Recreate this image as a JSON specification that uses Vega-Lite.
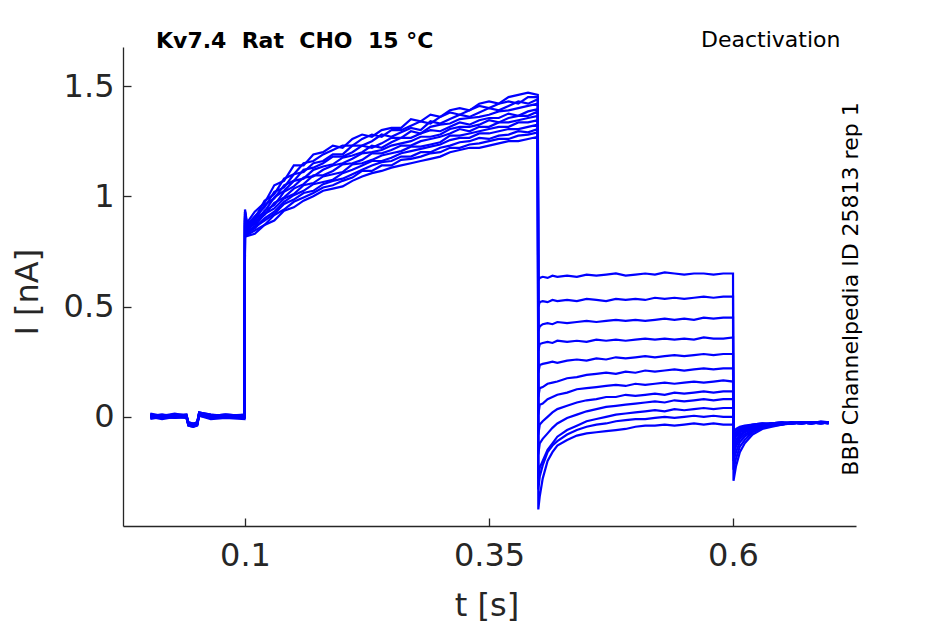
{
  "$schema": "https://vega.github.io/schema/vega-lite/v6.json",
  "width": 733,
  "height": 479,
  "autosize": {"type": "none"},
  "padding": {"left": 123, "top": 47, "right": 89, "bottom": 98},
  "config": {"view": {"stroke": null}, "font": "DejaVu Sans"},
  "title": {"text": "Kv7.4\u00a0\u00a0Rat\u00a0\u00a0CHO\u00a0\u00a015\u00a0°C", "anchor": "start", "frame": "group", "dx": 33, "dy": 42, "offset": 0, "baseline": "alphabetic", "fontSize": 22, "fontWeight": "bold", "color": "black", "font": "DejaVu Sans"},
  "data": {"values": [
{"s":1,"t":0.003,"i":0.01},{"s":1,"t":0.015,"i":0.0},{"s":1,"t":0.028,"i":0.01},{"s":1,"t":0.04,"i":0.005},{"s":1,"t":0.042,"i":-0.025},{"s":1,"t":0.047,"i":-0.03},{"s":1,"t":0.051,"i":-0.025},{"s":1,"t":0.053,"i":0.015},{"s":1,"t":0.065,"i":0.005},{"s":1,"t":0.08,"i":0.01},{"s":1,"t":0.0995,"i":0.005},
{"s":1,"t":0.1,"i":0.94},{"s":1,"t":0.102,"i":0.88},{"s":1,"t":0.11,"i":0.93},{"s":1,"t":0.12,"i":0.97},{"s":1,"t":0.13,"i":1.05},{"s":1,"t":0.14,"i":1.07},{"s":1,"t":0.15,"i":1.14},{"s":1,"t":0.16,"i":1.14},{"s":1,"t":0.17,"i":1.19},{"s":1,"t":0.18,"i":1.2},{"s":1,"t":0.19,"i":1.23},{"s":1,"t":0.2,"i":1.22},{"s":1,"t":0.21,"i":1.26},{"s":1,"t":0.22,"i":1.28},{"s":1,"t":0.23,"i":1.27},{"s":1,"t":0.24,"i":1.3},{"s":1,"t":0.25,"i":1.31},{"s":1,"t":0.26,"i":1.31},{"s":1,"t":0.27,"i":1.35},{"s":1,"t":0.28,"i":1.34},{"s":1,"t":0.29,"i":1.37},{"s":1,"t":0.3,"i":1.36},{"s":1,"t":0.31,"i":1.39},{"s":1,"t":0.32,"i":1.4},{"s":1,"t":0.33,"i":1.39},{"s":1,"t":0.34,"i":1.42},{"s":1,"t":0.35,"i":1.43},{"s":1,"t":0.36,"i":1.42},{"s":1,"t":0.37,"i":1.45},{"s":1,"t":0.38,"i":1.46},{"s":1,"t":0.39,"i":1.47},{"s":1,"t":0.4,"i":1.46},
{"s":1,"t":0.4005,"i":0.62},{"s":1,"t":0.402,"i":0.63},{"s":1,"t":0.405,"i":0.635},{"s":1,"t":0.41,"i":0.63},{"s":1,"t":0.415,"i":0.64},{"s":1,"t":0.42,"i":0.635},{"s":1,"t":0.43,"i":0.64},{"s":1,"t":0.44,"i":0.635},{"s":1,"t":0.45,"i":0.645},{"s":1,"t":0.46,"i":0.64},{"s":1,"t":0.47,"i":0.645},{"s":1,"t":0.48,"i":0.65},{"s":1,"t":0.49,"i":0.64},{"s":1,"t":0.5,"i":0.645},{"s":1,"t":0.51,"i":0.65},{"s":1,"t":0.52,"i":0.645},{"s":1,"t":0.53,"i":0.655},{"s":1,"t":0.54,"i":0.65},{"s":1,"t":0.55,"i":0.645},{"s":1,"t":0.56,"i":0.65},{"s":1,"t":0.57,"i":0.65},{"s":1,"t":0.58,"i":0.645},{"s":1,"t":0.59,"i":0.65},{"s":1,"t":0.6,"i":0.65},
{"s":1,"t":0.6005,"i":-0.29},{"s":1,"t":0.603,"i":-0.225},{"s":1,"t":0.607,"i":-0.16},{"s":1,"t":0.612,"i":-0.12},{"s":1,"t":0.62,"i":-0.08},{"s":1,"t":0.63,"i":-0.055},{"s":1,"t":0.64,"i":-0.045},{"s":1,"t":0.65,"i":-0.035},{"s":1,"t":0.66,"i":-0.03},{"s":1,"t":0.67,"i":-0.025},{"s":1,"t":0.68,"i":-0.03},{"s":1,"t":0.69,"i":-0.025},{"s":1,"t":0.698,"i":-0.025},
{"s":2,"t":0.003,"i":0.005},{"s":2,"t":0.015,"i":0.01},{"s":2,"t":0.028,"i":0.0},{"s":2,"t":0.04,"i":0.01},{"s":2,"t":0.042,"i":-0.03},{"s":2,"t":0.047,"i":-0.035},{"s":2,"t":0.051,"i":-0.03},{"s":2,"t":0.053,"i":0.02},{"s":2,"t":0.065,"i":0.01},{"s":2,"t":0.08,"i":0.0},{"s":2,"t":0.0995,"i":0.01},
{"s":2,"t":0.1,"i":0.93},{"s":2,"t":0.102,"i":0.87},{"s":2,"t":0.11,"i":0.9},{"s":2,"t":0.12,"i":0.98},{"s":2,"t":0.13,"i":1.01},{"s":2,"t":0.14,"i":1.08},{"s":2,"t":0.15,"i":1.1},{"s":2,"t":0.16,"i":1.15},{"s":2,"t":0.17,"i":1.16},{"s":2,"t":0.18,"i":1.19},{"s":2,"t":0.19,"i":1.21},{"s":2,"t":0.2,"i":1.23},{"s":2,"t":0.21,"i":1.23},{"s":2,"t":0.22,"i":1.26},{"s":2,"t":0.23,"i":1.28},{"s":2,"t":0.24,"i":1.27},{"s":2,"t":0.25,"i":1.3},{"s":2,"t":0.26,"i":1.3},{"s":2,"t":0.27,"i":1.32},{"s":2,"t":0.28,"i":1.34},{"s":2,"t":0.29,"i":1.33},{"s":2,"t":0.3,"i":1.36},{"s":2,"t":0.31,"i":1.38},{"s":2,"t":0.32,"i":1.37},{"s":2,"t":0.33,"i":1.39},{"s":2,"t":0.34,"i":1.41},{"s":2,"t":0.35,"i":1.4},{"s":2,"t":0.36,"i":1.42},{"s":2,"t":0.37,"i":1.43},{"s":2,"t":0.38,"i":1.42},{"s":2,"t":0.39,"i":1.45},{"s":2,"t":0.4,"i":1.45},
{"s":2,"t":0.4005,"i":0.5},{"s":2,"t":0.402,"i":0.52},{"s":2,"t":0.405,"i":0.525},{"s":2,"t":0.41,"i":0.52},{"s":2,"t":0.415,"i":0.53},{"s":2,"t":0.42,"i":0.525},{"s":2,"t":0.43,"i":0.53},{"s":2,"t":0.44,"i":0.525},{"s":2,"t":0.45,"i":0.535},{"s":2,"t":0.46,"i":0.53},{"s":2,"t":0.47,"i":0.525},{"s":2,"t":0.48,"i":0.535},{"s":2,"t":0.49,"i":0.53},{"s":2,"t":0.5,"i":0.535},{"s":2,"t":0.51,"i":0.53},{"s":2,"t":0.52,"i":0.54},{"s":2,"t":0.53,"i":0.535},{"s":2,"t":0.54,"i":0.54},{"s":2,"t":0.55,"i":0.535},{"s":2,"t":0.56,"i":0.54},{"s":2,"t":0.57,"i":0.545},{"s":2,"t":0.58,"i":0.54},{"s":2,"t":0.59,"i":0.545},{"s":2,"t":0.6,"i":0.545},
{"s":2,"t":0.6005,"i":-0.24},{"s":2,"t":0.603,"i":-0.19},{"s":2,"t":0.607,"i":-0.135},{"s":2,"t":0.612,"i":-0.105},{"s":2,"t":0.62,"i":-0.07},{"s":2,"t":0.63,"i":-0.05},{"s":2,"t":0.64,"i":-0.04},{"s":2,"t":0.65,"i":-0.035},{"s":2,"t":0.66,"i":-0.025},{"s":2,"t":0.67,"i":-0.03},{"s":2,"t":0.68,"i":-0.025},{"s":2,"t":0.69,"i":-0.03},{"s":2,"t":0.698,"i":-0.025},
{"s":3,"t":0.003,"i":0.0},{"s":3,"t":0.015,"i":0.005},{"s":3,"t":0.028,"i":0.005},{"s":3,"t":0.04,"i":0.0},{"s":3,"t":0.042,"i":-0.035},{"s":3,"t":0.047,"i":-0.04},{"s":3,"t":0.051,"i":-0.03},{"s":3,"t":0.053,"i":0.01},{"s":3,"t":0.065,"i":0.0},{"s":3,"t":0.08,"i":0.005},{"s":3,"t":0.0995,"i":0.0},
{"s":3,"t":0.1,"i":0.93},{"s":3,"t":0.102,"i":0.87},{"s":3,"t":0.11,"i":0.91},{"s":3,"t":0.12,"i":0.95},{"s":3,"t":0.13,"i":1.02},{"s":3,"t":0.14,"i":1.04},{"s":3,"t":0.15,"i":1.1},{"s":3,"t":0.16,"i":1.11},{"s":3,"t":0.17,"i":1.15},{"s":3,"t":0.18,"i":1.16},{"s":3,"t":0.19,"i":1.19},{"s":3,"t":0.2,"i":1.19},{"s":3,"t":0.21,"i":1.23},{"s":3,"t":0.22,"i":1.23},{"s":3,"t":0.23,"i":1.25},{"s":3,"t":0.24,"i":1.28},{"s":3,"t":0.25,"i":1.27},{"s":3,"t":0.26,"i":1.29},{"s":3,"t":0.27,"i":1.31},{"s":3,"t":0.28,"i":1.3},{"s":3,"t":0.29,"i":1.34},{"s":3,"t":0.3,"i":1.33},{"s":3,"t":0.31,"i":1.35},{"s":3,"t":0.32,"i":1.37},{"s":3,"t":0.33,"i":1.36},{"s":3,"t":0.34,"i":1.38},{"s":3,"t":0.35,"i":1.4},{"s":3,"t":0.36,"i":1.39},{"s":3,"t":0.37,"i":1.41},{"s":3,"t":0.38,"i":1.43},{"s":3,"t":0.39,"i":1.42},{"s":3,"t":0.4,"i":1.44},
{"s":3,"t":0.4005,"i":0.39},{"s":3,"t":0.402,"i":0.41},{"s":3,"t":0.405,"i":0.42},{"s":3,"t":0.41,"i":0.425},{"s":3,"t":0.415,"i":0.42},{"s":3,"t":0.42,"i":0.43},{"s":3,"t":0.43,"i":0.425},{"s":3,"t":0.44,"i":0.43},{"s":3,"t":0.45,"i":0.435},{"s":3,"t":0.46,"i":0.43},{"s":3,"t":0.47,"i":0.435},{"s":3,"t":0.48,"i":0.44},{"s":3,"t":0.49,"i":0.435},{"s":3,"t":0.5,"i":0.44},{"s":3,"t":0.51,"i":0.435},{"s":3,"t":0.52,"i":0.44},{"s":3,"t":0.53,"i":0.445},{"s":3,"t":0.54,"i":0.44},{"s":3,"t":0.55,"i":0.445},{"s":3,"t":0.56,"i":0.44},{"s":3,"t":0.57,"i":0.45},{"s":3,"t":0.58,"i":0.445},{"s":3,"t":0.59,"i":0.45},{"s":3,"t":0.6,"i":0.45},
{"s":3,"t":0.6005,"i":-0.2},{"s":3,"t":0.603,"i":-0.16},{"s":3,"t":0.607,"i":-0.115},{"s":3,"t":0.612,"i":-0.09},{"s":3,"t":0.62,"i":-0.065},{"s":3,"t":0.63,"i":-0.045},{"s":3,"t":0.64,"i":-0.035},{"s":3,"t":0.65,"i":-0.03},{"s":3,"t":0.66,"i":-0.03},{"s":3,"t":0.67,"i":-0.025},{"s":3,"t":0.68,"i":-0.03},{"s":3,"t":0.69,"i":-0.02},{"s":3,"t":0.698,"i":-0.025},
{"s":4,"t":0.003,"i":0.01},{"s":4,"t":0.015,"i":-0.005},{"s":4,"t":0.028,"i":0.0},{"s":4,"t":0.04,"i":0.005},{"s":4,"t":0.042,"i":-0.03},{"s":4,"t":0.047,"i":-0.035},{"s":4,"t":0.051,"i":-0.035},{"s":4,"t":0.053,"i":0.015},{"s":4,"t":0.065,"i":0.005},{"s":4,"t":0.08,"i":0.01},{"s":4,"t":0.0995,"i":0.005},
{"s":4,"t":0.1,"i":0.92},{"s":4,"t":0.102,"i":0.86},{"s":4,"t":0.11,"i":0.89},{"s":4,"t":0.12,"i":0.96},{"s":4,"t":0.13,"i":0.99},{"s":4,"t":0.14,"i":1.05},{"s":4,"t":0.15,"i":1.07},{"s":4,"t":0.16,"i":1.12},{"s":4,"t":0.17,"i":1.13},{"s":4,"t":0.18,"i":1.15},{"s":4,"t":0.19,"i":1.18},{"s":4,"t":0.2,"i":1.18},{"s":4,"t":0.21,"i":1.2},{"s":4,"t":0.22,"i":1.23},{"s":4,"t":0.23,"i":1.22},{"s":4,"t":0.24,"i":1.24},{"s":4,"t":0.25,"i":1.265},{"s":4,"t":0.26,"i":1.265},{"s":4,"t":0.27,"i":1.295},{"s":4,"t":0.28,"i":1.285},{"s":4,"t":0.29,"i":1.315},{"s":4,"t":0.3,"i":1.325},{"s":4,"t":0.31,"i":1.33},{"s":4,"t":0.32,"i":1.35},{"s":4,"t":0.33,"i":1.355},{"s":4,"t":0.34,"i":1.36},{"s":4,"t":0.35,"i":1.37},{"s":4,"t":0.36,"i":1.385},{"s":4,"t":0.37,"i":1.39},{"s":4,"t":0.38,"i":1.4},{"s":4,"t":0.39,"i":1.41},{"s":4,"t":0.4,"i":1.42},
{"s":4,"t":0.4005,"i":0.3},{"s":4,"t":0.402,"i":0.33},{"s":4,"t":0.405,"i":0.335},{"s":4,"t":0.41,"i":0.34},{"s":4,"t":0.415,"i":0.335},{"s":4,"t":0.42,"i":0.345},{"s":4,"t":0.43,"i":0.34},{"s":4,"t":0.44,"i":0.345},{"s":4,"t":0.45,"i":0.34},{"s":4,"t":0.46,"i":0.35},{"s":4,"t":0.47,"i":0.345},{"s":4,"t":0.48,"i":0.35},{"s":4,"t":0.49,"i":0.345},{"s":4,"t":0.5,"i":0.35},{"s":4,"t":0.51,"i":0.355},{"s":4,"t":0.52,"i":0.35},{"s":4,"t":0.53,"i":0.355},{"s":4,"t":0.54,"i":0.35},{"s":4,"t":0.55,"i":0.355},{"s":4,"t":0.56,"i":0.35},{"s":4,"t":0.57,"i":0.36},{"s":4,"t":0.58,"i":0.355},{"s":4,"t":0.59,"i":0.355},{"s":4,"t":0.6,"i":0.36},
{"s":4,"t":0.6005,"i":-0.17},{"s":4,"t":0.603,"i":-0.135},{"s":4,"t":0.607,"i":-0.1},{"s":4,"t":0.612,"i":-0.08},{"s":4,"t":0.62,"i":-0.06},{"s":4,"t":0.63,"i":-0.045},{"s":4,"t":0.64,"i":-0.04},{"s":4,"t":0.65,"i":-0.03},{"s":4,"t":0.66,"i":-0.025},{"s":4,"t":0.67,"i":-0.03},{"s":4,"t":0.68,"i":-0.025},{"s":4,"t":0.69,"i":-0.025},{"s":4,"t":0.698,"i":-0.03},
{"s":5,"t":0.003,"i":0.0},{"s":5,"t":0.015,"i":0.005},{"s":5,"t":0.028,"i":-0.005},{"s":5,"t":0.04,"i":0.0},{"s":5,"t":0.042,"i":-0.035},{"s":5,"t":0.047,"i":-0.04},{"s":5,"t":0.051,"i":-0.035},{"s":5,"t":0.053,"i":0.01},{"s":5,"t":0.065,"i":0.0},{"s":5,"t":0.08,"i":-0.005},{"s":5,"t":0.0995,"i":0.0},
{"s":5,"t":0.1,"i":0.91},{"s":5,"t":0.102,"i":0.855},{"s":5,"t":0.11,"i":0.895},{"s":5,"t":0.12,"i":0.93},{"s":5,"t":0.13,"i":0.995},{"s":5,"t":0.14,"i":1.025},{"s":5,"t":0.15,"i":1.07},{"s":5,"t":0.16,"i":1.08},{"s":5,"t":0.17,"i":1.12},{"s":5,"t":0.18,"i":1.135},{"s":5,"t":0.19,"i":1.145},{"s":5,"t":0.2,"i":1.175},{"s":5,"t":0.21,"i":1.185},{"s":5,"t":0.22,"i":1.2},{"s":5,"t":0.23,"i":1.23},{"s":5,"t":0.24,"i":1.22},{"s":5,"t":0.25,"i":1.245},{"s":5,"t":0.26,"i":1.265},{"s":5,"t":0.27,"i":1.265},{"s":5,"t":0.28,"i":1.285},{"s":5,"t":0.29,"i":1.3},{"s":5,"t":0.3,"i":1.295},{"s":5,"t":0.31,"i":1.315},{"s":5,"t":0.32,"i":1.335},{"s":5,"t":0.33,"i":1.325},{"s":5,"t":0.34,"i":1.345},{"s":5,"t":0.35,"i":1.355},{"s":5,"t":0.36,"i":1.355},{"s":5,"t":0.37,"i":1.375},{"s":5,"t":0.38,"i":1.365},{"s":5,"t":0.39,"i":1.385},{"s":5,"t":0.4,"i":1.395},
{"s":5,"t":0.4005,"i":0.2},{"s":5,"t":0.402,"i":0.235},{"s":5,"t":0.405,"i":0.24},{"s":5,"t":0.41,"i":0.245},{"s":5,"t":0.415,"i":0.25},{"s":5,"t":0.42,"i":0.245},{"s":5,"t":0.43,"i":0.255},{"s":5,"t":0.44,"i":0.26},{"s":5,"t":0.45,"i":0.255},{"s":5,"t":0.46,"i":0.265},{"s":5,"t":0.47,"i":0.26},{"s":5,"t":0.48,"i":0.27},{"s":5,"t":0.49,"i":0.265},{"s":5,"t":0.5,"i":0.27},{"s":5,"t":0.51,"i":0.275},{"s":5,"t":0.52,"i":0.27},{"s":5,"t":0.53,"i":0.275},{"s":5,"t":0.54,"i":0.28},{"s":5,"t":0.55,"i":0.275},{"s":5,"t":0.56,"i":0.28},{"s":5,"t":0.57,"i":0.285},{"s":5,"t":0.58,"i":0.28},{"s":5,"t":0.59,"i":0.285},{"s":5,"t":0.6,"i":0.285},
{"s":5,"t":0.6005,"i":-0.15},{"s":5,"t":0.603,"i":-0.12},{"s":5,"t":0.607,"i":-0.09},{"s":5,"t":0.612,"i":-0.07},{"s":5,"t":0.62,"i":-0.055},{"s":5,"t":0.63,"i":-0.04},{"s":5,"t":0.64,"i":-0.035},{"s":5,"t":0.65,"i":-0.03},{"s":5,"t":0.66,"i":-0.03},{"s":5,"t":0.67,"i":-0.025},{"s":5,"t":0.68,"i":-0.03},{"s":5,"t":0.69,"i":-0.025},{"s":5,"t":0.698,"i":-0.025},
{"s":6,"t":0.003,"i":0.015},{"s":6,"t":0.015,"i":0.005},{"s":6,"t":0.028,"i":0.01},{"s":6,"t":0.04,"i":0.01},{"s":6,"t":0.042,"i":-0.025},{"s":6,"t":0.047,"i":-0.03},{"s":6,"t":0.051,"i":-0.025},{"s":6,"t":0.053,"i":0.02},{"s":6,"t":0.065,"i":0.01},{"s":6,"t":0.08,"i":0.005},{"s":6,"t":0.0995,"i":0.01},
{"s":6,"t":0.1,"i":0.91},{"s":6,"t":0.102,"i":0.85},{"s":6,"t":0.11,"i":0.875},{"s":6,"t":0.12,"i":0.935},{"s":6,"t":0.13,"i":0.96},{"s":6,"t":0.14,"i":1.02},{"s":6,"t":0.15,"i":1.045},{"s":6,"t":0.16,"i":1.085},{"s":6,"t":0.17,"i":1.09},{"s":6,"t":0.18,"i":1.12},{"s":6,"t":0.19,"i":1.14},{"s":6,"t":0.2,"i":1.15},{"s":6,"t":0.21,"i":1.17},{"s":6,"t":0.22,"i":1.195},{"s":6,"t":0.23,"i":1.2},{"s":6,"t":0.24,"i":1.21},{"s":6,"t":0.25,"i":1.23},{"s":6,"t":0.26,"i":1.24},{"s":6,"t":0.27,"i":1.25},{"s":6,"t":0.28,"i":1.27},{"s":6,"t":0.29,"i":1.27},{"s":6,"t":0.3,"i":1.28},{"s":6,"t":0.31,"i":1.305},{"s":6,"t":0.32,"i":1.315},{"s":6,"t":0.33,"i":1.315},{"s":6,"t":0.34,"i":1.325},{"s":6,"t":0.35,"i":1.345},{"s":6,"t":0.36,"i":1.335},{"s":6,"t":0.37,"i":1.355},{"s":6,"t":0.38,"i":1.365},{"s":6,"t":0.39,"i":1.365},{"s":6,"t":0.4,"i":1.385},
{"s":6,"t":0.4005,"i":0.09},{"s":6,"t":0.402,"i":0.13},{"s":6,"t":0.405,"i":0.135},{"s":6,"t":0.41,"i":0.15},{"s":6,"t":0.415,"i":0.155},{"s":6,"t":0.42,"i":0.16},{"s":6,"t":0.43,"i":0.175},{"s":6,"t":0.44,"i":0.18},{"s":6,"t":0.45,"i":0.19},{"s":6,"t":0.46,"i":0.195},{"s":6,"t":0.47,"i":0.2},{"s":6,"t":0.48,"i":0.195},{"s":6,"t":0.49,"i":0.205},{"s":6,"t":0.5,"i":0.2},{"s":6,"t":0.51,"i":0.21},{"s":6,"t":0.52,"i":0.205},{"s":6,"t":0.53,"i":0.21},{"s":6,"t":0.54,"i":0.215},{"s":6,"t":0.55,"i":0.21},{"s":6,"t":0.56,"i":0.215},{"s":6,"t":0.57,"i":0.22},{"s":6,"t":0.58,"i":0.215},{"s":6,"t":0.59,"i":0.22},{"s":6,"t":0.6,"i":0.22},
{"s":6,"t":0.6005,"i":-0.13},{"s":6,"t":0.603,"i":-0.105},{"s":6,"t":0.607,"i":-0.08},{"s":6,"t":0.612,"i":-0.065},{"s":6,"t":0.62,"i":-0.05},{"s":6,"t":0.63,"i":-0.04},{"s":6,"t":0.64,"i":-0.03},{"s":6,"t":0.65,"i":-0.035},{"s":6,"t":0.66,"i":-0.025},{"s":6,"t":0.67,"i":-0.03},{"s":6,"t":0.68,"i":-0.025},{"s":6,"t":0.69,"i":-0.03},{"s":6,"t":0.698,"i":-0.025},
{"s":7,"t":0.003,"i":-0.005},{"s":7,"t":0.015,"i":0.0},{"s":7,"t":0.028,"i":0.005},{"s":7,"t":0.04,"i":-0.005},{"s":7,"t":0.042,"i":-0.04},{"s":7,"t":0.047,"i":-0.045},{"s":7,"t":0.051,"i":-0.04},{"s":7,"t":0.053,"i":0.005},{"s":7,"t":0.065,"i":-0.005},{"s":7,"t":0.08,"i":0.0},{"s":7,"t":0.0995,"i":-0.005},
{"s":7,"t":0.1,"i":0.9},{"s":7,"t":0.102,"i":0.845},{"s":7,"t":0.11,"i":0.885},{"s":7,"t":0.12,"i":0.915},{"s":7,"t":0.13,"i":0.97},{"s":7,"t":0.14,"i":0.995},{"s":7,"t":0.15,"i":1.035},{"s":7,"t":0.16,"i":1.055},{"s":7,"t":0.17,"i":1.095},{"s":7,"t":0.18,"i":1.095},{"s":7,"t":0.19,"i":1.115},{"s":7,"t":0.2,"i":1.145},{"s":7,"t":0.21,"i":1.15},{"s":7,"t":0.22,"i":1.165},{"s":7,"t":0.23,"i":1.195},{"s":7,"t":0.24,"i":1.195},{"s":7,"t":0.25,"i":1.21},{"s":7,"t":0.26,"i":1.23},{"s":7,"t":0.27,"i":1.23},{"s":7,"t":0.28,"i":1.25},{"s":7,"t":0.29,"i":1.26},{"s":7,"t":0.3,"i":1.27},{"s":7,"t":0.31,"i":1.285},{"s":7,"t":0.32,"i":1.305},{"s":7,"t":0.33,"i":1.295},{"s":7,"t":0.34,"i":1.315},{"s":7,"t":0.35,"i":1.315},{"s":7,"t":0.36,"i":1.335},{"s":7,"t":0.37,"i":1.335},{"s":7,"t":0.38,"i":1.345},{"s":7,"t":0.39,"i":1.355},{"s":7,"t":0.4,"i":1.365},
{"s":7,"t":0.4005,"i":0.01},{"s":7,"t":0.402,"i":0.055},{"s":7,"t":0.405,"i":0.06},{"s":7,"t":0.41,"i":0.08},{"s":7,"t":0.415,"i":0.09},{"s":7,"t":0.42,"i":0.1},{"s":7,"t":0.43,"i":0.11},{"s":7,"t":0.44,"i":0.125},{"s":7,"t":0.45,"i":0.13},{"s":7,"t":0.46,"i":0.135},{"s":7,"t":0.47,"i":0.14},{"s":7,"t":0.48,"i":0.145},{"s":7,"t":0.49,"i":0.14},{"s":7,"t":0.5,"i":0.15},{"s":7,"t":0.51,"i":0.145},{"s":7,"t":0.52,"i":0.15},{"s":7,"t":0.53,"i":0.155},{"s":7,"t":0.54,"i":0.15},{"s":7,"t":0.55,"i":0.155},{"s":7,"t":0.56,"i":0.16},{"s":7,"t":0.57,"i":0.155},{"s":7,"t":0.58,"i":0.16},{"s":7,"t":0.59,"i":0.165},{"s":7,"t":0.6,"i":0.16},
{"s":7,"t":0.6005,"i":-0.11},{"s":7,"t":0.603,"i":-0.09},{"s":7,"t":0.607,"i":-0.07},{"s":7,"t":0.612,"i":-0.06},{"s":7,"t":0.62,"i":-0.045},{"s":7,"t":0.63,"i":-0.035},{"s":7,"t":0.64,"i":-0.035},{"s":7,"t":0.65,"i":-0.03},{"s":7,"t":0.66,"i":-0.03},{"s":7,"t":0.67,"i":-0.025},{"s":7,"t":0.68,"i":-0.03},{"s":7,"t":0.69,"i":-0.025},{"s":7,"t":0.698,"i":-0.03},
{"s":8,"t":0.003,"i":0.005},{"s":8,"t":0.015,"i":0.01},{"s":8,"t":0.028,"i":0.005},{"s":8,"t":0.04,"i":0.0},{"s":8,"t":0.042,"i":-0.03},{"s":8,"t":0.047,"i":-0.04},{"s":8,"t":0.051,"i":-0.03},{"s":8,"t":0.053,"i":0.015},{"s":8,"t":0.065,"i":0.0},{"s":8,"t":0.08,"i":0.005},{"s":8,"t":0.0995,"i":0.0},
{"s":8,"t":0.1,"i":0.9},{"s":8,"t":0.102,"i":0.84},{"s":8,"t":0.11,"i":0.865},{"s":8,"t":0.12,"i":0.92},{"s":8,"t":0.13,"i":0.945},{"s":8,"t":0.14,"i":0.99},{"s":8,"t":0.15,"i":1.01},{"s":8,"t":0.16,"i":1.05},{"s":8,"t":0.17,"i":1.06},{"s":8,"t":0.18,"i":1.09},{"s":8,"t":0.19,"i":1.1},{"s":8,"t":0.2,"i":1.11},{"s":8,"t":0.21,"i":1.145},{"s":8,"t":0.22,"i":1.15},{"s":8,"t":0.23,"i":1.165},{"s":8,"t":0.24,"i":1.185},{"s":8,"t":0.25,"i":1.195},{"s":8,"t":0.26,"i":1.205},{"s":8,"t":0.27,"i":1.225},{"s":8,"t":0.28,"i":1.225},{"s":8,"t":0.29,"i":1.235},{"s":8,"t":0.3,"i":1.245},{"s":8,"t":0.31,"i":1.275},{"s":8,"t":0.32,"i":1.275},{"s":8,"t":0.33,"i":1.285},{"s":8,"t":0.34,"i":1.295},{"s":8,"t":0.35,"i":1.305},{"s":8,"t":0.36,"i":1.315},{"s":8,"t":0.37,"i":1.315},{"s":8,"t":0.38,"i":1.335},{"s":8,"t":0.39,"i":1.335},{"s":8,"t":0.4,"i":1.345},
{"s":8,"t":0.4005,"i":-0.08},{"s":8,"t":0.402,"i":-0.035},{"s":8,"t":0.405,"i":-0.02},{"s":8,"t":0.41,"i":0.0},{"s":8,"t":0.415,"i":0.02},{"s":8,"t":0.42,"i":0.035},{"s":8,"t":0.43,"i":0.05},{"s":8,"t":0.44,"i":0.065},{"s":8,"t":0.45,"i":0.075},{"s":8,"t":0.46,"i":0.08},{"s":8,"t":0.47,"i":0.09},{"s":8,"t":0.48,"i":0.09},{"s":8,"t":0.49,"i":0.1},{"s":8,"t":0.5,"i":0.095},{"s":8,"t":0.51,"i":0.1},{"s":8,"t":0.52,"i":0.105},{"s":8,"t":0.53,"i":0.1},{"s":8,"t":0.54,"i":0.11},{"s":8,"t":0.55,"i":0.105},{"s":8,"t":0.56,"i":0.11},{"s":8,"t":0.57,"i":0.115},{"s":8,"t":0.58,"i":0.11},{"s":8,"t":0.59,"i":0.115},{"s":8,"t":0.6,"i":0.115},
{"s":8,"t":0.6005,"i":-0.1},{"s":8,"t":0.603,"i":-0.085},{"s":8,"t":0.607,"i":-0.065},{"s":8,"t":0.612,"i":-0.055},{"s":8,"t":0.62,"i":-0.045},{"s":8,"t":0.63,"i":-0.04},{"s":8,"t":0.64,"i":-0.03},{"s":8,"t":0.65,"i":-0.025},{"s":8,"t":0.66,"i":-0.03},{"s":8,"t":0.67,"i":-0.03},{"s":8,"t":0.68,"i":-0.025},{"s":8,"t":0.69,"i":-0.03},{"s":8,"t":0.698,"i":-0.025},
{"s":9,"t":0.003,"i":0.0},{"s":9,"t":0.015,"i":-0.01},{"s":9,"t":0.028,"i":0.0},{"s":9,"t":0.04,"i":-0.005},{"s":9,"t":0.042,"i":-0.035},{"s":9,"t":0.047,"i":-0.04},{"s":9,"t":0.051,"i":-0.035},{"s":9,"t":0.053,"i":0.01},{"s":9,"t":0.065,"i":-0.005},{"s":9,"t":0.08,"i":-0.005},{"s":9,"t":0.0995,"i":-0.005},
{"s":9,"t":0.1,"i":0.89},{"s":9,"t":0.102,"i":0.835},{"s":9,"t":0.11,"i":0.855},{"s":9,"t":0.12,"i":0.9},{"s":9,"t":0.13,"i":0.93},{"s":9,"t":0.14,"i":0.975},{"s":9,"t":0.15,"i":1.005},{"s":9,"t":0.16,"i":1.025},{"s":9,"t":0.17,"i":1.055},{"s":9,"t":0.18,"i":1.065},{"s":9,"t":0.19,"i":1.075},{"s":9,"t":0.2,"i":1.105},{"s":9,"t":0.21,"i":1.12},{"s":9,"t":0.22,"i":1.14},{"s":9,"t":0.23,"i":1.16},{"s":9,"t":0.24,"i":1.16},{"s":9,"t":0.25,"i":1.175},{"s":9,"t":0.26,"i":1.195},{"s":9,"t":0.27,"i":1.205},{"s":9,"t":0.28,"i":1.215},{"s":9,"t":0.29,"i":1.225},{"s":9,"t":0.3,"i":1.235},{"s":9,"t":0.31,"i":1.255},{"s":9,"t":0.32,"i":1.265},{"s":9,"t":0.33,"i":1.265},{"s":9,"t":0.34,"i":1.285},{"s":9,"t":0.35,"i":1.285},{"s":9,"t":0.36,"i":1.295},{"s":9,"t":0.37,"i":1.305},{"s":9,"t":0.38,"i":1.305},{"s":9,"t":0.39,"i":1.315},{"s":9,"t":0.4,"i":1.325},
{"s":9,"t":0.4005,"i":-0.17},{"s":9,"t":0.402,"i":-0.12},{"s":9,"t":0.405,"i":-0.1},{"s":9,"t":0.41,"i":-0.075},{"s":9,"t":0.415,"i":-0.05},{"s":9,"t":0.42,"i":-0.03},{"s":9,"t":0.43,"i":-0.005},{"s":9,"t":0.44,"i":0.01},{"s":9,"t":0.45,"i":0.025},{"s":9,"t":0.46,"i":0.035},{"s":9,"t":0.47,"i":0.045},{"s":9,"t":0.48,"i":0.05},{"s":9,"t":0.49,"i":0.055},{"s":9,"t":0.5,"i":0.06},{"s":9,"t":0.51,"i":0.065},{"s":9,"t":0.52,"i":0.07},{"s":9,"t":0.53,"i":0.065},{"s":9,"t":0.54,"i":0.075},{"s":9,"t":0.55,"i":0.07},{"s":9,"t":0.56,"i":0.075},{"s":9,"t":0.57,"i":0.08},{"s":9,"t":0.58,"i":0.075},{"s":9,"t":0.59,"i":0.08},{"s":9,"t":0.6,"i":0.08},
{"s":9,"t":0.6005,"i":-0.09},{"s":9,"t":0.603,"i":-0.075},{"s":9,"t":0.607,"i":-0.06},{"s":9,"t":0.612,"i":-0.05},{"s":9,"t":0.62,"i":-0.04},{"s":9,"t":0.63,"i":-0.035},{"s":9,"t":0.64,"i":-0.03},{"s":9,"t":0.65,"i":-0.03},{"s":9,"t":0.66,"i":-0.025},{"s":9,"t":0.67,"i":-0.03},{"s":9,"t":0.68,"i":-0.025},{"s":9,"t":0.69,"i":-0.025},{"s":9,"t":0.698,"i":-0.03},
{"s":10,"t":0.003,"i":0.01},{"s":10,"t":0.015,"i":0.005},{"s":10,"t":0.028,"i":0.015},{"s":10,"t":0.04,"i":0.005},{"s":10,"t":0.042,"i":-0.03},{"s":10,"t":0.047,"i":-0.035},{"s":10,"t":0.051,"i":-0.03},{"s":10,"t":0.053,"i":0.02},{"s":10,"t":0.065,"i":0.005},{"s":10,"t":0.08,"i":0.01},{"s":10,"t":0.0995,"i":0.005},
{"s":10,"t":0.1,"i":0.89},{"s":10,"t":0.102,"i":0.83},{"s":10,"t":0.11,"i":0.86},{"s":10,"t":0.12,"i":0.89},{"s":10,"t":0.13,"i":0.92},{"s":10,"t":0.14,"i":0.965},{"s":10,"t":0.15,"i":0.985},{"s":10,"t":0.16,"i":1.015},{"s":10,"t":0.17,"i":1.025},{"s":10,"t":0.18,"i":1.055},{"s":10,"t":0.19,"i":1.07},{"s":10,"t":0.2,"i":1.08},{"s":10,"t":0.21,"i":1.1},{"s":10,"t":0.22,"i":1.12},{"s":10,"t":0.23,"i":1.14},{"s":10,"t":0.24,"i":1.155},{"s":10,"t":0.25,"i":1.16},{"s":10,"t":0.26,"i":1.18},{"s":10,"t":0.27,"i":1.18},{"s":10,"t":0.28,"i":1.2},{"s":10,"t":0.29,"i":1.2},{"s":10,"t":0.3,"i":1.22},{"s":10,"t":0.31,"i":1.23},{"s":10,"t":0.32,"i":1.245},{"s":10,"t":0.33,"i":1.25},{"s":10,"t":0.34,"i":1.265},{"s":10,"t":0.35,"i":1.26},{"s":10,"t":0.36,"i":1.275},{"s":10,"t":0.37,"i":1.28},{"s":10,"t":0.38,"i":1.295},{"s":10,"t":0.39,"i":1.29},{"s":10,"t":0.4,"i":1.305},
{"s":10,"t":0.4005,"i":-0.28},{"s":10,"t":0.402,"i":-0.23},{"s":10,"t":0.405,"i":-0.2},{"s":10,"t":0.41,"i":-0.15},{"s":10,"t":0.415,"i":-0.12},{"s":10,"t":0.42,"i":-0.09},{"s":10,"t":0.43,"i":-0.06},{"s":10,"t":0.44,"i":-0.04},{"s":10,"t":0.45,"i":-0.02},{"s":10,"t":0.46,"i":-0.01},{"s":10,"t":0.47,"i":0.0},{"s":10,"t":0.48,"i":0.01},{"s":10,"t":0.49,"i":0.015},{"s":10,"t":0.5,"i":0.02},{"s":10,"t":0.51,"i":0.025},{"s":10,"t":0.52,"i":0.03},{"s":10,"t":0.53,"i":0.025},{"s":10,"t":0.54,"i":0.035},{"s":10,"t":0.55,"i":0.03},{"s":10,"t":0.56,"i":0.035},{"s":10,"t":0.57,"i":0.04},{"s":10,"t":0.58,"i":0.035},{"s":10,"t":0.59,"i":0.04},{"s":10,"t":0.6,"i":0.04},
{"s":10,"t":0.6005,"i":-0.08},{"s":10,"t":0.603,"i":-0.07},{"s":10,"t":0.607,"i":-0.055},{"s":10,"t":0.612,"i":-0.045},{"s":10,"t":0.62,"i":-0.04},{"s":10,"t":0.63,"i":-0.035},{"s":10,"t":0.64,"i":-0.03},{"s":10,"t":0.65,"i":-0.025},{"s":10,"t":0.66,"i":-0.03},{"s":10,"t":0.67,"i":-0.025},{"s":10,"t":0.68,"i":-0.03},{"s":10,"t":0.69,"i":-0.025},{"s":10,"t":0.698,"i":-0.025},
{"s":11,"t":0.003,"i":-0.01},{"s":11,"t":0.015,"i":0.0},{"s":11,"t":0.028,"i":-0.005},{"s":11,"t":0.04,"i":0.0},{"s":11,"t":0.042,"i":-0.04},{"s":11,"t":0.047,"i":-0.045},{"s":11,"t":0.051,"i":-0.035},{"s":11,"t":0.053,"i":0.005},{"s":11,"t":0.065,"i":-0.01},{"s":11,"t":0.08,"i":-0.005},{"s":11,"t":0.0995,"i":-0.01},
{"s":11,"t":0.1,"i":0.88},{"s":11,"t":0.102,"i":0.825},{"s":11,"t":0.11,"i":0.845},{"s":11,"t":0.12,"i":0.87},{"s":11,"t":0.13,"i":0.915},{"s":11,"t":0.14,"i":0.94},{"s":11,"t":0.15,"i":0.975},{"s":11,"t":0.16,"i":0.995},{"s":11,"t":0.17,"i":1.015},{"s":11,"t":0.18,"i":1.04},{"s":11,"t":0.19,"i":1.05},{"s":11,"t":0.2,"i":1.07},{"s":11,"t":0.21,"i":1.085},{"s":11,"t":0.22,"i":1.115},{"s":11,"t":0.23,"i":1.115},{"s":11,"t":0.24,"i":1.14},{"s":11,"t":0.25,"i":1.14},{"s":11,"t":0.26,"i":1.165},{"s":11,"t":0.27,"i":1.17},{"s":11,"t":0.28,"i":1.18},{"s":11,"t":0.29,"i":1.195},{"s":11,"t":0.3,"i":1.2},{"s":11,"t":0.31,"i":1.22},{"s":11,"t":0.32,"i":1.22},{"s":11,"t":0.33,"i":1.235},{"s":11,"t":0.34,"i":1.24},{"s":11,"t":0.35,"i":1.25},{"s":11,"t":0.36,"i":1.26},{"s":11,"t":0.37,"i":1.26},{"s":11,"t":0.38,"i":1.275},{"s":11,"t":0.39,"i":1.28},{"s":11,"t":0.4,"i":1.29},
{"s":11,"t":0.4005,"i":-0.33},{"s":11,"t":0.402,"i":-0.27},{"s":11,"t":0.405,"i":-0.22},{"s":11,"t":0.41,"i":-0.16},{"s":11,"t":0.415,"i":-0.13},{"s":11,"t":0.42,"i":-0.11},{"s":11,"t":0.43,"i":-0.08},{"s":11,"t":0.44,"i":-0.06},{"s":11,"t":0.45,"i":-0.045},{"s":11,"t":0.46,"i":-0.035},{"s":11,"t":0.47,"i":-0.03},{"s":11,"t":0.48,"i":-0.02},{"s":11,"t":0.49,"i":-0.015},{"s":11,"t":0.5,"i":-0.01},{"s":11,"t":0.51,"i":-0.01},{"s":11,"t":0.52,"i":-0.005},{"s":11,"t":0.53,"i":0.0},{"s":11,"t":0.54,"i":-0.005},{"s":11,"t":0.55,"i":0.0},{"s":11,"t":0.56,"i":0.005},{"s":11,"t":0.57,"i":0.0},{"s":11,"t":0.58,"i":0.005},{"s":11,"t":0.59,"i":0.0},{"s":11,"t":0.6,"i":0.0},
{"s":11,"t":0.6005,"i":-0.07},{"s":11,"t":0.603,"i":-0.06},{"s":11,"t":0.607,"i":-0.05},{"s":11,"t":0.612,"i":-0.045},{"s":11,"t":0.62,"i":-0.035},{"s":11,"t":0.63,"i":-0.03},{"s":11,"t":0.64,"i":-0.035},{"s":11,"t":0.65,"i":-0.03},{"s":11,"t":0.66,"i":-0.025},{"s":11,"t":0.67,"i":-0.03},{"s":11,"t":0.68,"i":-0.025},{"s":11,"t":0.69,"i":-0.03},{"s":11,"t":0.698,"i":-0.025},
{"s":12,"t":0.003,"i":0.005},{"s":12,"t":0.015,"i":-0.005},{"s":12,"t":0.028,"i":0.0},{"s":12,"t":0.04,"i":0.005},{"s":12,"t":0.042,"i":-0.035},{"s":12,"t":0.047,"i":-0.04},{"s":12,"t":0.051,"i":-0.035},{"s":12,"t":0.053,"i":0.01},{"s":12,"t":0.065,"i":0.0},{"s":12,"t":0.08,"i":0.0},{"s":12,"t":0.0995,"i":0.0},
{"s":12,"t":0.1,"i":0.87},{"s":12,"t":0.102,"i":0.82},{"s":12,"t":0.11,"i":0.83},{"s":12,"t":0.12,"i":0.87},{"s":12,"t":0.13,"i":0.89},{"s":12,"t":0.14,"i":0.935},{"s":12,"t":0.15,"i":0.95},{"s":12,"t":0.16,"i":0.98},{"s":12,"t":0.17,"i":1.0},{"s":12,"t":0.18,"i":1.025},{"s":12,"t":0.19,"i":1.035},{"s":12,"t":0.2,"i":1.045},{"s":12,"t":0.21,"i":1.07},{"s":12,"t":0.22,"i":1.09},{"s":12,"t":0.23,"i":1.105},{"s":12,"t":0.24,"i":1.115},{"s":12,"t":0.25,"i":1.13},{"s":12,"t":0.26,"i":1.14},{"s":12,"t":0.27,"i":1.15},{"s":12,"t":0.28,"i":1.16},{"s":12,"t":0.29,"i":1.17},{"s":12,"t":0.3,"i":1.18},{"s":12,"t":0.31,"i":1.2},{"s":12,"t":0.32,"i":1.21},{"s":12,"t":0.33,"i":1.22},{"s":12,"t":0.34,"i":1.22},{"s":12,"t":0.35,"i":1.23},{"s":12,"t":0.36,"i":1.24},{"s":12,"t":0.37,"i":1.25},{"s":12,"t":0.38,"i":1.25},{"s":12,"t":0.39,"i":1.26},{"s":12,"t":0.4,"i":1.27},
{"s":12,"t":0.4005,"i":-0.42},{"s":12,"t":0.402,"i":-0.36},{"s":12,"t":0.405,"i":-0.28},{"s":12,"t":0.41,"i":-0.2},{"s":12,"t":0.415,"i":-0.16},{"s":12,"t":0.42,"i":-0.13},{"s":12,"t":0.43,"i":-0.105},{"s":12,"t":0.44,"i":-0.085},{"s":12,"t":0.45,"i":-0.075},{"s":12,"t":0.46,"i":-0.07},{"s":12,"t":0.47,"i":-0.065},{"s":12,"t":0.48,"i":-0.06},{"s":12,"t":0.49,"i":-0.055},{"s":12,"t":0.5,"i":-0.045},{"s":12,"t":0.51,"i":-0.04},{"s":12,"t":0.52,"i":-0.04},{"s":12,"t":0.53,"i":-0.035},{"s":12,"t":0.54,"i":-0.04},{"s":12,"t":0.55,"i":-0.035},{"s":12,"t":0.56,"i":-0.03},{"s":12,"t":0.57,"i":-0.035},{"s":12,"t":0.58,"i":-0.03},{"s":12,"t":0.59,"i":-0.035},{"s":12,"t":0.6,"i":-0.035},
{"s":12,"t":0.6005,"i":-0.06},{"s":12,"t":0.603,"i":-0.055},{"s":12,"t":0.607,"i":-0.045},{"s":12,"t":0.612,"i":-0.04},{"s":12,"t":0.62,"i":-0.035},{"s":12,"t":0.63,"i":-0.03},{"s":12,"t":0.64,"i":-0.03},{"s":12,"t":0.65,"i":-0.025},{"s":12,"t":0.66,"i":-0.03},{"s":12,"t":0.67,"i":-0.025},{"s":12,"t":0.68,"i":-0.03},{"s":12,"t":0.69,"i":-0.025},{"s":12,"t":0.698,"i":-0.025}
  ]},
  "layer": [
    {
      "mark": {"type": "line", "color": "#0000ff", "strokeWidth": 2.2},
      "encoding": {
        "x": {"field": "t", "type": "quantitative",
          "scale": {"domain": [-0.025, 0.726], "nice": false, "zero": false},
          "axis": {"title": "t [s]", "values": [0.1, 0.35, 0.6], "format": ".2~g", "grid": false,
            "domainColor": "#262626", "tickColor": "#262626", "labelColor": "#262626", "titleColor": "#262626",
            "domainWidth": 1.3, "tickWidth": 1.3, "tickSize": -8,
            "labelFontSize": 32, "labelFont": "DejaVu Sans", "labelBaseline": "alphabetic", "labelPadding": 47,
            "labelFlush": false, "labelOverlap": false,
            "titleFontSize": 32, "titleFont": "DejaVu Sans", "titleFontWeight": "normal",
            "titleX": 363.5, "titleY": 89, "titleAlign": "center", "titleBaseline": "alphabetic"}},
        "y": {"field": "i", "type": "quantitative",
          "scale": {"domain": [-0.495, 1.677], "nice": false, "zero": false},
          "axis": {"title": "I [nA]", "values": [0, 0.5, 1, 1.5], "format": ".2~g", "grid": false,
            "domainColor": "#262626", "tickColor": "#262626", "labelColor": "#262626", "titleColor": "#262626",
            "domainWidth": 1.3, "tickWidth": 1.3, "tickSize": -8,
            "labelFontSize": 32, "labelFont": "DejaVu Sans", "labelPadding": 17,
            "labelFlush": false, "labelOverlap": false,
            "titleFontSize": 32, "titleFont": "DejaVu Sans", "titleFontWeight": "normal",
            "titleX": -85.5, "titleY": 244.7, "titleAlign": "center", "titleBaseline": "alphabetic", "titleAngle": 270}},
        "detail": {"field": "s", "type": "nominal"}
      }
    },
    {
      "mark": {"type": "line", "opacity": 0},
      "encoding": {
        "x": {"field": "t", "type": "quantitative",
          "axis": {"orient": "top", "title": "Deactivation", "domain": false, "ticks": false, "labels": false, "grid": false,
            "titleFontSize": 22, "titleFont": "DejaVu Sans", "titleFontWeight": "normal", "titleColor": "black",
            "titleX": 717, "titleY": -1, "titleAlign": "right", "titleBaseline": "alphabetic"}},
        "y": {"field": "i", "type": "quantitative",
          "axis": {"orient": "right", "title": "BBP Channelpedia ID 25813 rep 1", "domain": false, "ticks": false, "labels": false, "grid": false,
            "titleFontSize": 22, "titleFont": "DejaVu Sans", "titleFontWeight": "normal", "titleColor": "black",
            "titleX": 1, "titleY": 241.5, "titleAlign": "center", "titleBaseline": "alphabetic", "titleAngle": 270}},
        "detail": {"field": "s", "type": "nominal"}
      }
    }
  ],
  "resolve": {"axis": {"x": "independent", "y": "independent"}}
}
